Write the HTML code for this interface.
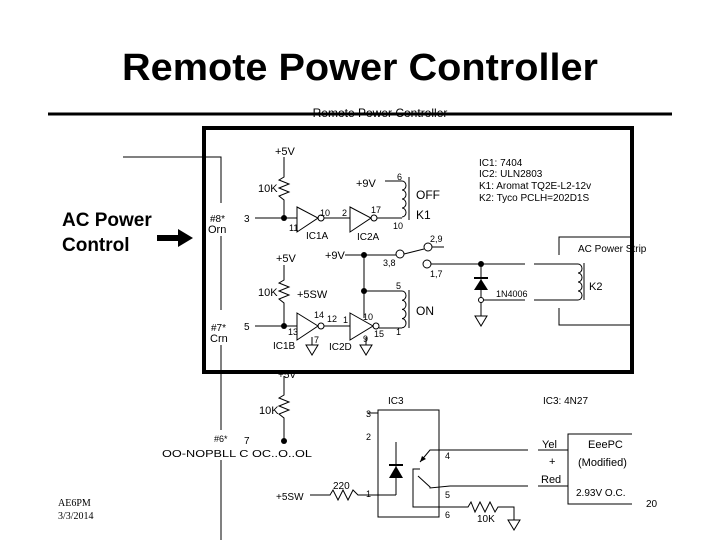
<!DOCTYPE html>
<html><head><style>
html,body{margin:0;padding:0;background:#fff;}
svg{display:block;}
text{font-family:"Liberation Sans",sans-serif;fill:#000;}
</style></head><body>
<svg width="720" height="540" viewBox="0 0 720 540" xmlns="http://www.w3.org/2000/svg">
<text x="360" y="80" font-size="38" font-weight="bold" text-anchor="middle" textLength="476" lengthAdjust="spacingAndGlyphs">Remote Power Controller</text>
<text x="380" y="117" font-size="12" text-anchor="middle">Remote Power Controller</text>
<line x1="48" y1="114" x2="672" y2="114" stroke="#000" stroke-width="3"/>
<rect x="204" y="128" width="428" height="244" fill="none" stroke="#000" stroke-width="4"/>
<text x="62" y="226" font-size="19" font-weight="bold">AC Power</text>
<text x="62" y="251" font-size="19" font-weight="bold">Control</text>
<line x1="157" y1="238" x2="180" y2="238" stroke="#000" stroke-width="6"/>
<polygon points="178,229 193,238 178,247" fill="#000"/>
<g stroke="#000" stroke-width="1" fill="none">
<polyline points="123,157 221,157 221,203"/>
<line x1="221" y1="236" x2="221" y2="310"/>
<line x1="221" y1="345" x2="221" y2="430"/>
<line x1="221" y1="460" x2="221" y2="540"/>
<!-- top channel -->
<polyline points="284,157 284,177 279,180 289,184 279,188 289,192 279,196 284,200 284,218"/>
<line x1="255" y1="218" x2="297" y2="218"/>
<polygon points="297,207 318,218 297,232"/>
<circle cx="321" cy="218" r="3"/>
<line x1="324" y1="218" x2="350" y2="218"/>
<polygon points="350,207 371,218 350,232"/>
<circle cx="374" cy="218" r="3"/>
<polyline points="377,218 402,218"/>
<line x1="385" y1="181" x2="402" y2="181"/>
<path d="M402,181 a4,4.5 0 0 1 0,9 a4,4.5 0 0 1 0,9 a4,4.5 0 0 1 0,9 a4,4.5 0 0 1 0,9"/>
<line x1="409" y1="177" x2="409" y2="220"/>
<!-- switch -->
<line x1="345" y1="255" x2="396" y2="255"/>
<line x1="364" y1="255" x2="364" y2="318"/>
<circle cx="400" cy="254" r="4"/>
<line x1="404" y1="254" x2="424" y2="249"/>
<circle cx="428" cy="247" r="4"/>
<line x1="432" y1="247" x2="444" y2="247"/>
<circle cx="427" cy="264" r="4"/>
<line x1="431" y1="264" x2="525" y2="264"/>
<line x1="481" y1="264" x2="481" y2="316"/>
<line x1="481" y1="300" x2="525" y2="300"/>
<polygon points="475,316 487,316 481,326"/>
<line x1="534" y1="264" x2="578" y2="264"/>
<line x1="534" y1="300" x2="578" y2="300"/>
<path d="M578,264 a4,4.5 0 0 1 0,9 a4,4.5 0 0 1 0,9 a4,4.5 0 0 1 0,9 a4,4.5 0 0 1 0,9"/>
<line x1="584" y1="263" x2="584" y2="300"/>
<polyline points="559,255 559,237 632,237"/>
<polyline points="559,308 559,325 632,325"/>
<!-- bottom channel -->
<polyline points="284,265 284,280 279,283 289,287 279,291 289,295 279,299 284,303 284,326"/>
<line x1="255" y1="326" x2="297" y2="326"/>
<polygon points="297,313 318,326 297,340"/>
<circle cx="321" cy="326" r="3"/>
<line x1="324" y1="326" x2="350" y2="326"/>
<polygon points="350,313 373,326 350,340"/>
<circle cx="376" cy="326" r="3"/>
<line x1="379" y1="328" x2="402" y2="328"/>
<line x1="364" y1="291" x2="402" y2="291"/>
<path d="M402,291 a4,4.6 0 0 1 0,9.2 a4,4.6 0 0 1 0,9.2 a4,4.6 0 0 1 0,9.2 a4,4.6 0 0 1 0,9.2"/>
<line x1="409" y1="290" x2="409" y2="328"/>
<line x1="312" y1="337" x2="312" y2="345"/>
<polygon points="306,345 318,345 312,355"/>
<line x1="366" y1="337" x2="366" y2="345"/>
<polygon points="360,345 372,345 366,355"/>
<!-- lower section -->
<polyline points="284,376 284,395 279,398 289,402 279,406 289,410 279,414 284,418 284,441"/>
<rect x="378" y="410" width="61" height="107"/>
<line x1="367" y1="413" x2="378" y2="413"/>
<line x1="396" y1="442" x2="396" y2="495"/>
<line x1="396" y1="495" x2="378" y2="495"/>
<polyline points="310,495 330,495 333,490 338,500 343,490 348,500 353,490 358,495 378,495"/>
<line x1="413" y1="469" x2="413" y2="507"/>
<polyline points="432,450 430,450 420,462"/>
<polyline points="418,476 430,487 430,488 450,486"/>
<line x1="430" y1="450" x2="528" y2="450"/>
<line x1="450" y1="486" x2="528" y2="486"/>
<polyline points="413,469 413,469"/>
<polyline points="420,469 413,469 413,507 468,507 471,502 475,512 480,502 485,512 490,502 495,512 498,507 514,507 514,520"/>
<polygon points="508,520 520,520 514,530"/>
<line x1="538" y1="450" x2="568" y2="450"/>
<line x1="538" y1="486" x2="568" y2="486"/>
<polyline points="632,434 568,434 568,504 632,504"/>
</g>
<g fill="#000">
<circle cx="284" cy="218" r="3"/>
<circle cx="284" cy="326" r="3"/>
<circle cx="364" cy="255" r="3"/>
<circle cx="364" cy="291" r="3"/>
<circle cx="481" cy="264" r="3"/>
<circle cx="481" cy="300" r="2.5" fill="#fff" stroke="#000"/>
<circle cx="284" cy="441" r="3"/>
<rect x="474" y="277" width="14" height="2"/>
<polygon points="474,290 488,290 481,279"/>
<rect x="389" y="464" width="14" height="2"/>
<polygon points="389,478 403,478 396,466"/>
<polygon points="420,462 422,456 426,459"/>
</g>
<g font-size="11">
<text x="275" y="155">+5V</text>
<text x="258" y="192">10K</text>
<text x="356" y="187">+9V</text>
<text x="397" y="180" font-size="9">6</text>
<text x="416" y="199" font-size="12">OFF</text>
<text x="416" y="219" font-size="12">K1</text>
<text x="210" y="222" font-size="10">#8*</text>
<text x="208" y="233" font-size="11">Orn</text>
<text x="244" y="222" font-size="10">3</text>
<text x="289" y="231" font-size="9">11</text>
<text x="320" y="216" font-size="9">10</text>
<text x="342" y="216" font-size="9">2</text>
<text x="371" y="213" font-size="9">17</text>
<text x="393" y="229" font-size="9">10</text>
<text x="306" y="239" font-size="10">IC1A</text>
<text x="357" y="240" font-size="10">IC2A</text>
<text x="479" y="166" font-size="10">IC1: 7404</text>
<text x="479" y="177" font-size="10">IC2: ULN2803</text>
<text x="479" y="189" font-size="10">K1: Aromat TQ2E-L2-12v</text>
<text x="479" y="201" font-size="10">K2: Tyco PCLH=202D1S</text>
<text x="325" y="259">+9V</text>
<text x="276" y="262">+5V</text>
<text x="383" y="266" font-size="9">3,8</text>
<text x="430" y="242" font-size="9">2,9</text>
<text x="430" y="277" font-size="9">1,7</text>
<text x="578" y="252" font-size="10">AC Power Strip</text>
<text x="496" y="297" font-size="9">1N4006</text>
<text x="589" y="290">K2</text>
<text x="258" y="296">10K</text>
<text x="297" y="298">+5SW</text>
<text x="396" y="289" font-size="9">5</text>
<text x="416" y="315" font-size="12">ON</text>
<text x="396" y="335" font-size="9">1</text>
<text x="211" y="331" font-size="10">#7*</text>
<text x="210" y="342" font-size="11">Crn</text>
<text x="244" y="330" font-size="10">5</text>
<text x="314" y="318" font-size="9">14</text>
<text x="327" y="322" font-size="9">12</text>
<text x="343" y="323" font-size="9">1</text>
<text x="363" y="320" font-size="9">10</text>
<text x="374" y="337" font-size="9">15</text>
<text x="288" y="335" font-size="9">13</text>
<text x="314" y="343" font-size="9">7</text>
<text x="363" y="342" font-size="9">9</text>
<text x="273" y="349" font-size="10">IC1B</text>
<text x="329" y="350" font-size="10">IC2D</text>
<text x="278" y="378" font-size="10">+5V</text>
<text x="259" y="414">10K</text>
<text x="214" y="442" font-size="9">#6*</text>
<text x="244" y="444" font-size="10">7</text>
<text x="162" y="457" font-size="10" textLength="150" lengthAdjust="spacingAndGlyphs">OO-NOPBLL C OC..O..OL</text>
<text x="388" y="404" font-size="10">IC3</text>
<text x="543" y="404" font-size="10">IC3: 4N27</text>
<text x="366" y="417" font-size="9">3</text>
<text x="366" y="440" font-size="9">2</text>
<text x="366" y="497" font-size="9">1</text>
<text x="333" y="489" font-size="10">220</text>
<text x="276" y="500" font-size="10">+5SW</text>
<text x="445" y="459" font-size="9">4</text>
<text x="445" y="498" font-size="9">5</text>
<text x="445" y="518" font-size="9">6</text>
<text x="477" y="522" font-size="10">10K</text>
<text x="542" y="448" font-size="11">Yel</text>
<text x="549" y="465" font-size="11">+</text>
<text x="541" y="483" font-size="11">Red</text>
<text x="588" y="448" font-size="11">EeePC</text>
<text x="578" y="466" font-size="11">(Modified)</text>
<text x="576" y="496" font-size="10">2.93V O.C.</text>
<text x="646" y="507" font-size="10">20</text>
</g>
<text x="58" y="506" font-size="10" font-family="Liberation Serif,serif" style="font-family:'Liberation Serif',serif">AE6PM</text>
<text x="58" y="519" font-size="10" style="font-family:'Liberation Serif',serif">3/3/2014</text>
</svg>
</body></html>
